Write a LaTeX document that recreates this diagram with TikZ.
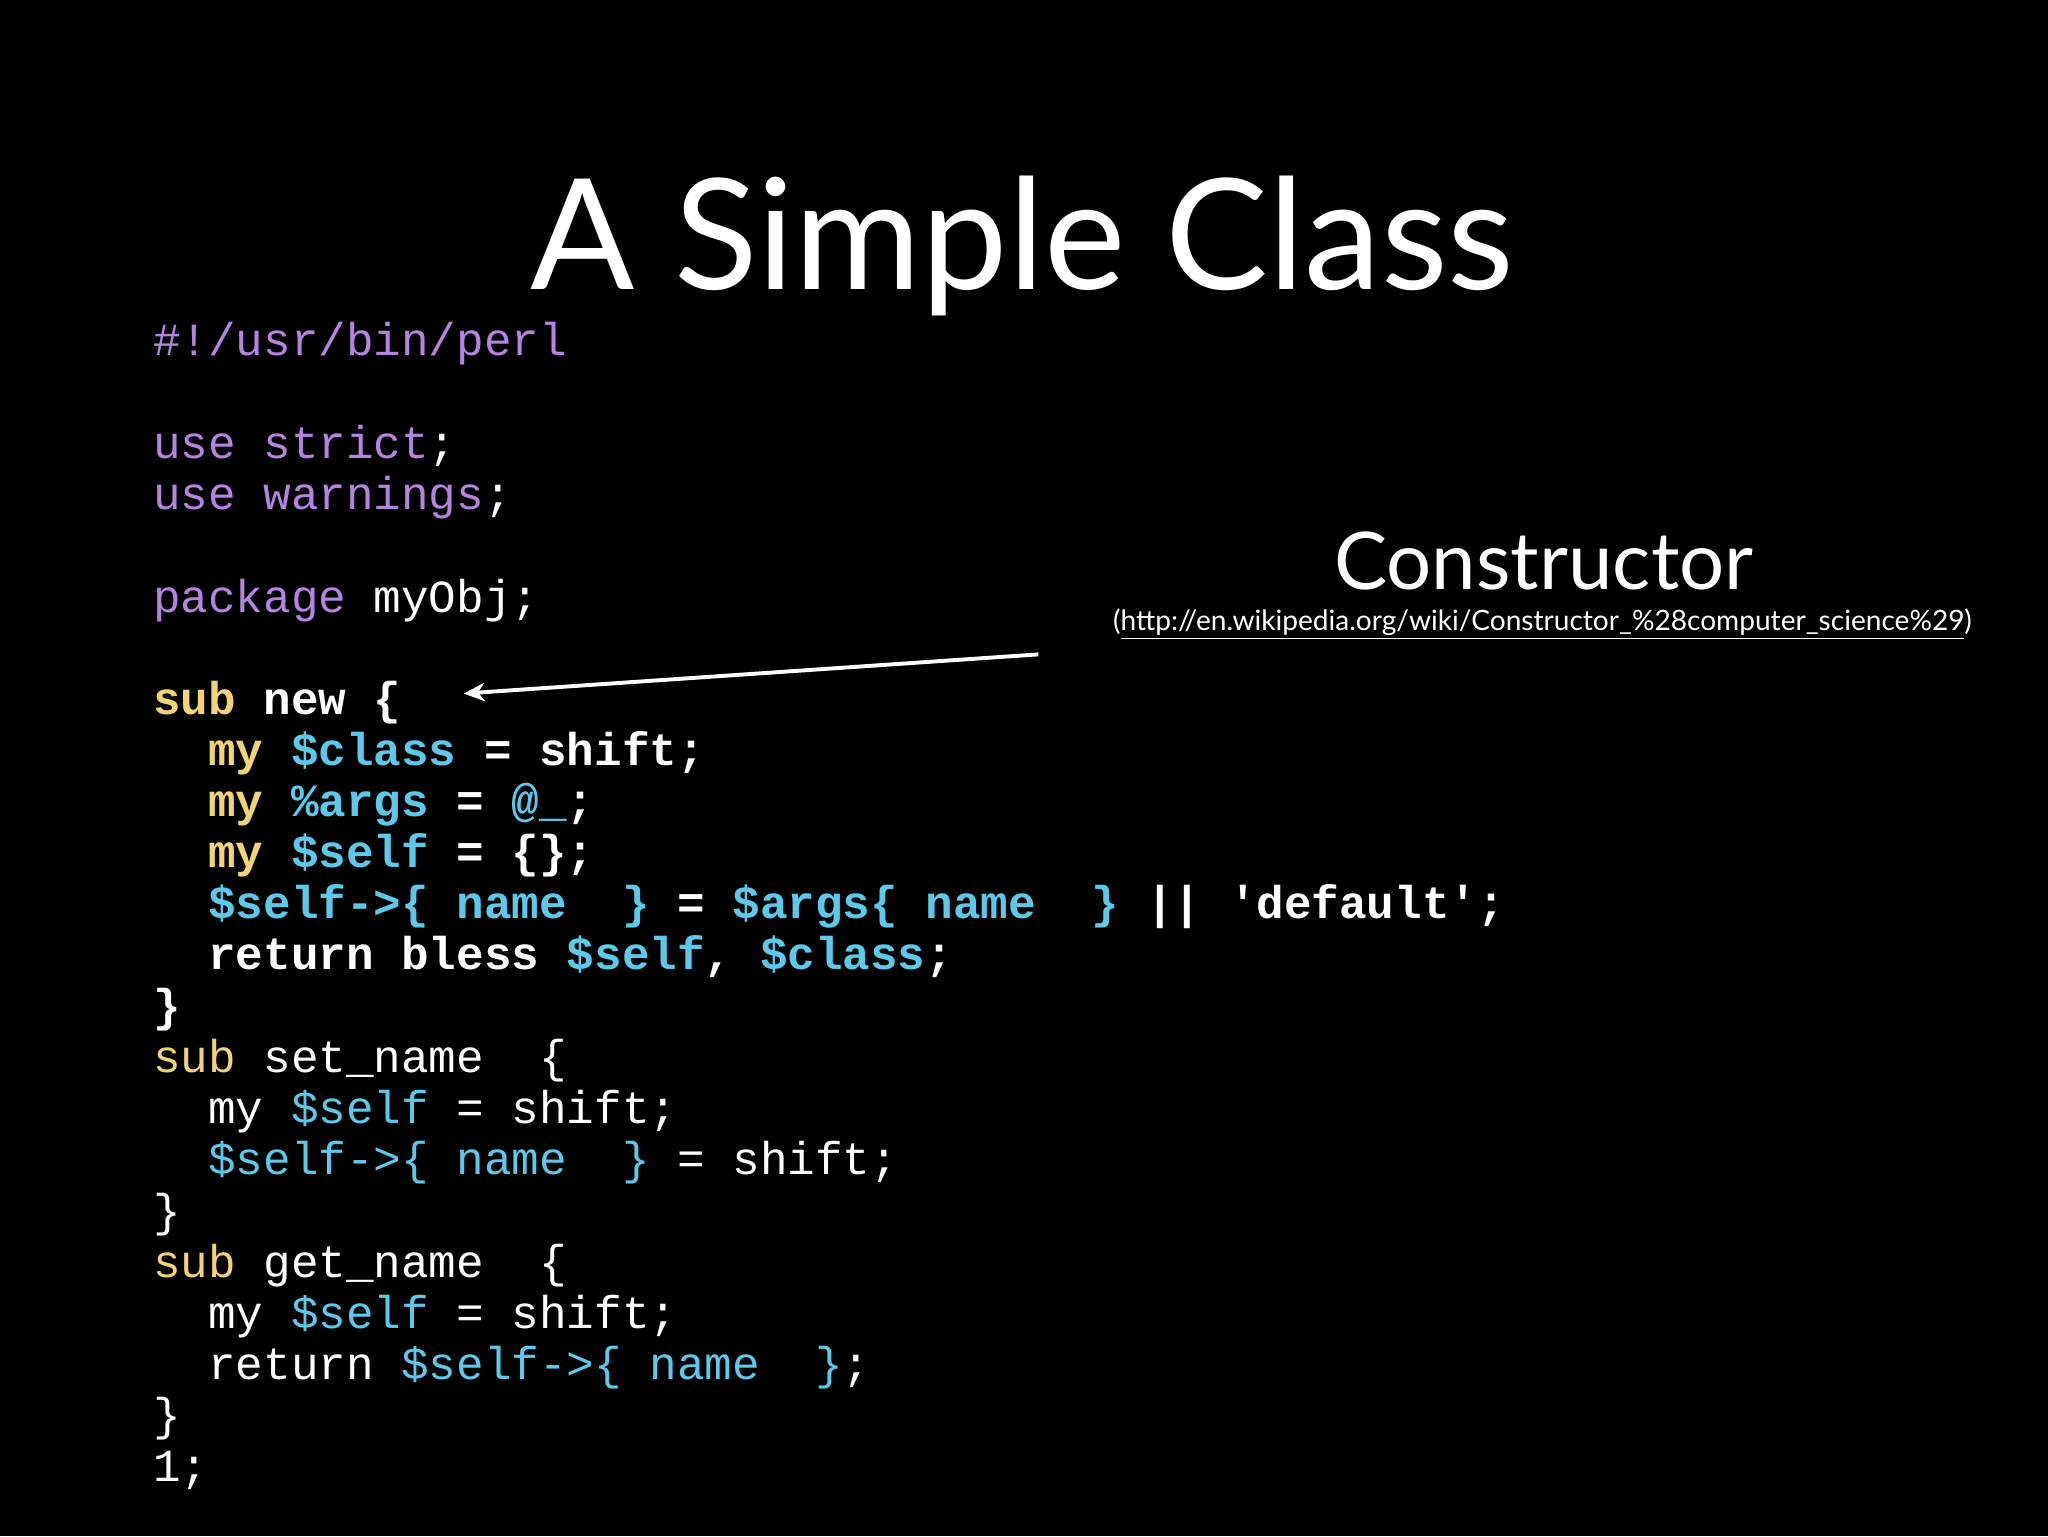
\documentclass[tikz,border=0pt]{standalone}
\usetikzlibrary{arrows.meta}
\usepackage{fontspec}
\setmainfont{Lato}
\setmonofont{Liberation Mono}
\usepackage{xcolor}
\definecolor{pur}{HTML}{B583E0}
\definecolor{yel}{HTML}{F2D477}
\definecolor{cya}{HTML}{5CC8EA}
\newcommand\Pu[1]{\textcolor{pur}{#1}}
\newcommand\Ye[1]{\textcolor{yel}{#1}}
\newcommand\Cy[1]{\textcolor{cya}{#1}}
\begin{document}
\begin{tikzpicture}[x=1pt,y=-1pt,
  code/.style={anchor=base west,inner sep=0pt,text=white,font=\fontsize{35.2}{36}\ttfamily},
  bcode/.style={code,font=\fontsize{35.2}{36}\ttfamily\bfseries}]
\fill[black] (0,0) rectangle (1568,1176);
\useasboundingbox (0,0) rectangle (1568,1176);
\node[anchor=base,text=white,font=\fontsize{118}{124}\selectfont,inner sep=0pt] (title) at (783,222) {A Simple Class};
\node[anchor=base,text=white,font=\fontsize{61}{64}\selectfont,inner sep=0pt] (ctor) at (1182,451) {Constructor};
\node[anchor=base,text=white,font=\fontsize{21.5}{22}\selectfont,inner sep=0pt] (url) at (1181,483) {(\underline{http://en.wikipedia.org/wiki/Constructor\_\%28computer\_science\%29})};
\node[code] (l1) at (117,272) {\Pu{\#!/usr/bin/perl}};
\node[code] (l2) at (117,351) {\Pu{use~strict};};
\node[code] (l3) at (117,390) {\Pu{use~warnings};};
\node[code] (l4) at (117,469) {\Pu{package}~myObj;};
\node[bcode] (l5) at (117,547) {\Ye{sub}~new~\{};
\node[bcode] (l6) at (117,586) {~~\Ye{my}~\Cy{\$class}~=~shift;};
\node[bcode] (l7) at (117,625) {~~\Ye{my}~\Cy{\%args}~=~\Cy{@\_};};
\node[bcode] (l8) at (117,664) {~~\Ye{my}~\Cy{\$self}~=~\{\};};
\node[bcode] (l9) at (117,703) {~~\Cy{\$self->\{~name~~\}}~=~\Cy{\$args\{~name~~\}}~||~'default';};
\node[bcode] (l10) at (117,742) {~~return~bless~\Cy{\$self},~\Cy{\$class};};
\node[bcode] (l11) at (117,782) {\}};
\node[code] (l12) at (117,821) {\Ye{sub}~set\_name~~\{};
\node[code] (l13) at (117,860) {~~my~\Cy{\$self}~=~shift;};
\node[code] (l14) at (117,899) {~~\Cy{\$self->\{~name~~\}}~=~shift;};
\node[code] (l15) at (117,939) {\}};
\node[code] (l16) at (117,978) {\Ye{sub}~get\_name~~\{};
\node[code] (l17) at (117,1017) {~~my~\Cy{\$self}~=~shift;};
\node[code] (l18) at (117,1056) {~~return~\Cy{\$self->\{~name~~\}};};
\node[code] (l19) at (117,1095) {\}};
\node[code] (l20) at (117,1134) {1;};
\coordinate (as) at (795,501);
\coordinate (ae) at (355,531);
\draw[white,line width=3pt,-{Stealth[length=16pt,width=14pt,inset=5pt]}] (as) -- (ae);
\end{tikzpicture}
\end{document}
